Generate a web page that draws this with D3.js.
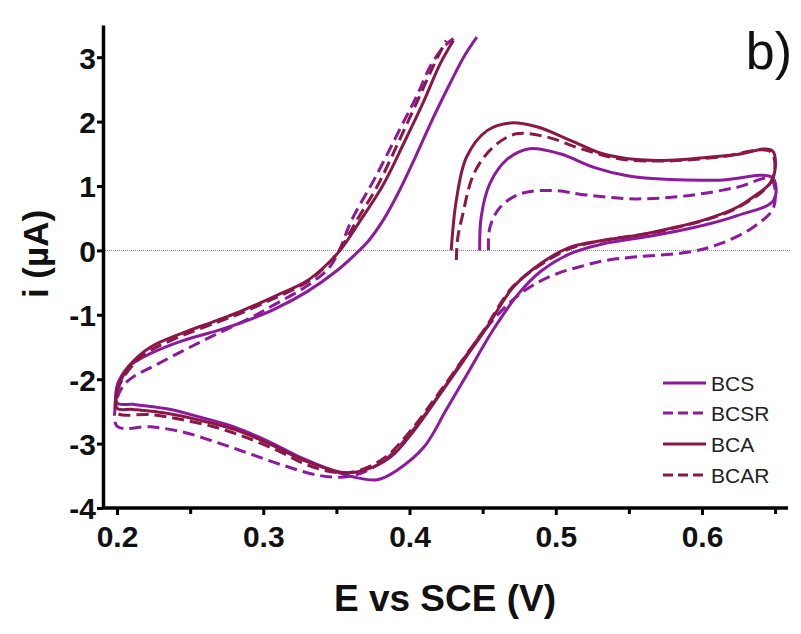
<!DOCTYPE html>
<html>
<head>
<meta charset="utf-8">
<script src="https://cdn.jsdelivr.net/npm/d3@7"></script>
<style>
  html, body { margin: 0; padding: 0; background: #fff; }
  svg { display: block; font-family: "Liberation Sans", Arial, sans-serif; }
</style>
</head>
<body>
<svg id="chart" width="801" height="634"></svg>
<script>
// ---- Data (E in V vs SCE, i in µA) in order ----
const seriesNames = ["BCS", "BCSR", "BCA", "BCAR"];

const bcs = [
  [0.448,0],[0.449,0.52],[0.455,1.04],[0.467,1.42],[0.482,1.58],[0.503,1.50],[0.526,1.29],
  [0.549,1.16],[0.578,1.10],[0.612,1.09],[0.648,1.13],
  [0.649,0.78],[0.624,0.54],[0.601,0.39],[0.567,0.23],[0.532,0.10],[0.510,-0.05],[0.490,-0.32],
  [0.475,-0.66],[0.457,-1.24],[0.441,-1.86],[0.425,-2.48],[0.410,-3.05],[0.391,-3.42],[0.378,-3.56],
  [0.362,-3.52],[0.348,-3.42],[0.325,-3.21],[0.302,-2.95],[0.280,-2.74],[0.257,-2.59],[0.234,-2.46],
  [0.211,-2.39],[0.200,-2.37],
  [0.200,-2.10],[0.203,-1.95],[0.208,-1.80],[0.223,-1.60],[0.245,-1.40],[0.268,-1.25],[0.284,-1.13],
  [0.307,-0.92],[0.330,-0.64],[0.350,-0.32],[0.362,-0.08],[0.372,0.15],[0.382,0.47],[0.392,0.88],
  [0.404,1.45],[0.416,2.05],[0.427,2.56],[0.437,3.00],[0.446,3.31]
];

const bcsr = [
  [0.454,0],[0.455,0.36],[0.462,0.67],[0.476,0.88],[0.498,0.93],[0.521,0.86],[0.555,0.80],
  [0.590,0.85],[0.624,0.98],[0.647,1.11],
  [0.649,0.67],[0.635,0.36],[0.612,0.10],[0.590,-0.03],[0.555,-0.10],[0.533,-0.16],[0.517,-0.25],
  [0.501,-0.36],[0.486,-0.52],[0.470,-0.78],[0.452,-1.22],[0.436,-1.72],[0.420,-2.25],[0.402,-2.80],
  [0.386,-3.20],[0.370,-3.43],[0.355,-3.52],[0.337,-3.49],[0.314,-3.34],[0.291,-3.16],[0.268,-2.98],
  [0.245,-2.82],[0.223,-2.74],[0.200,-2.73],
  [0.200,-2.30],[0.205,-2.08],[0.212,-1.95],[0.223,-1.82],[0.245,-1.56],[0.268,-1.30],[0.291,-1.05],
  [0.307,-0.85],[0.330,-0.55],[0.345,-0.27],[0.352,0.00],[0.360,0.45],[0.377,1.15],
  [0.394,1.91],[0.405,2.40],[0.414,2.85],[0.423,3.15],[0.430,3.29]
];

const bca = [
  [0.4285,0],[0.432,0.78],[0.439,1.45],[0.453,1.86],[0.469,1.98],[0.487,1.92],[0.510,1.71],
  [0.532,1.50],[0.555,1.41],[0.578,1.40],[0.601,1.44],[0.624,1.49],[0.648,1.55],
  [0.648,1.09],[0.635,0.83],[0.624,0.67],[0.601,0.47],[0.578,0.34],[0.555,0.23],[0.532,0.155],
  [0.510,0.05],[0.490,-0.20],[0.471,-0.57],[0.453,-1.19],[0.437,-1.71],[0.421,-2.23],[0.403,-2.80],
  [0.387,-3.21],[0.368,-3.42],[0.355,-3.45],[0.330,-3.28],[0.302,-2.98],[0.280,-2.78],[0.257,-2.64],
  [0.234,-2.53],[0.211,-2.47],[0.200,-2.45],
  [0.200,-2.20],[0.203,-2.00],[0.208,-1.80],[0.223,-1.50],[0.245,-1.28],[0.268,-1.09],[0.284,-0.95],
  [0.307,-0.72],[0.330,-0.47],[0.342,-0.25],[0.3525,0.00],[0.366,0.45],[0.382,1.02],
  [0.396,1.66],[0.410,2.33],[0.421,2.90],[0.430,3.26]
];

const bcar = [
  [0.432,-0.15],[0.433,0.20],[0.436,0.52],[0.444,1.19],[0.457,1.60],[0.473,1.81],[0.494,1.76],
  [0.517,1.58],[0.544,1.42],[0.578,1.39],[0.612,1.45],[0.647,1.53],
  [0.648,1.10],[0.624,0.66],[0.578,0.33],[0.532,0.15],[0.510,0.03],[0.490,-0.22],[0.470,-0.58],
  [0.452,-1.20],[0.435,-1.74],[0.418,-2.28],[0.400,-2.82],[0.383,-3.22],[0.365,-3.42],[0.350,-3.45],
  [0.330,-3.33],[0.311,-3.12],[0.290,-2.92],[0.268,-2.75],[0.245,-2.63],[0.223,-2.55],[0.200,-2.52],
  [0.200,-2.20],[0.205,-1.95],[0.215,-1.68],[0.223,-1.55],[0.245,-1.32],[0.268,-1.12],[0.284,-0.98],
  [0.307,-0.75],[0.330,-0.49],[0.342,-0.26],[0.352,0.00],[0.364,0.47],[0.378,1.00],
  [0.392,1.66],[0.405,2.30],[0.416,2.85],[0.425,3.26]
];

const xMajorTicks = [0.2, 0.3, 0.4, 0.5, 0.6];
const xMinorTicks = [0.25, 0.35, 0.45, 0.55, 0.65];
const yTicks = [-4, -3, -2, -1, 0, 1, 2, 3];

// ---- Layout ----
const svg = d3.select("#chart");
const purple = "#8c1a9c", maroon = "#8a1746";
const series = [
  { name: "BCS",  data: bcs,  color: purple, dash: null },
  { name: "BCSR", data: bcsr, color: purple, dash: "12,6" },
  { name: "BCA",  data: bca,  color: maroon, dash: null },
  { name: "BCAR", data: bcar, color: maroon, dash: "12,6" }
];

const x = d3.scaleLinear().domain([0.1904, 0.6588]).range([103, 788]);
const y = d3.scaleLinear().domain([-4, 3.5]).range([508, 25]);

// zero reference line
svg.append("line")
  .attr("x1", x(0.1904)).attr("x2", 790)
  .attr("y1", y(0)).attr("y2", y(0))
  .attr("stroke", "#888").attr("stroke-width", 1).attr("stroke-dasharray", "1,1");

// curves
const line = d3.line().x(d => x(d[0])).y(d => y(d[1])).curve(d3.curveCatmullRom.alpha(0.5));
svg.append("g").selectAll("path").data(series).join("path")
  .attr("d", d => line(d.data))
  .attr("fill", "none")
  .attr("stroke", d => d.color)
  .attr("stroke-width", 3)
  .attr("stroke-linejoin", "round")
  .attr("stroke-dasharray", d => d.dash);

// axes
const fmt = d3.format(".1f");
const gx = svg.append("g").attr("transform", `translate(0,${y(-4)})`)
  .call(d3.axisBottom(x).tickValues(xMajorTicks).tickFormat(fmt).tickSize(7).tickSizeOuter(0));
svg.append("g").attr("transform", `translate(0,${y(-4)})`)
  .call(d3.axisBottom(x).tickValues(xMinorTicks).tickFormat("").tickSize(6).tickSizeOuter(0))
  .call(g => g.select(".domain").remove())
  .selectAll("line").attr("stroke", "#000").attr("stroke-width", 3);
const gy = svg.append("g").attr("transform", `translate(${x(0.1904)},0)`)
  .call(d3.axisLeft(y).tickValues(yTicks).tickFormat(d => String(d)).tickSize(6).tickSizeOuter(0));

[gx, gy].forEach(g => {
  g.select(".domain").attr("stroke", "#000").attr("stroke-width", 3.5);
  g.selectAll(".tick line").attr("stroke", "#000").attr("stroke-width", 3);
  g.selectAll(".tick text")
    .attr("font-family", "'Liberation Sans', Arial, sans-serif")
    .attr("font-weight", "bold").attr("font-size", 30).attr("fill", "#111");
});
gx.selectAll(".tick text").attr("dy", "0.95em").attr("y", 10);
gy.selectAll(".tick text").attr("x", -7).attr("dy", "0.36em");
gx.select(".domain").attr("d", `M${x(0.1904)-1},0H${x(0.6588)}`);

// axis titles
svg.append("text")
  .attr("x", 445).attr("y", 611)
  .attr("text-anchor", "middle")
  .attr("font-weight", "bold").attr("font-size", 37).attr("fill", "#111")
  .text("E vs SCE (V)");
svg.append("text")
  .attr("transform", "translate(48,254) rotate(-90)")
  .attr("text-anchor", "middle")
  .attr("font-weight", "bold").attr("font-size", 35).attr("fill", "#111")
  .text("i (µA)");

// panel label
svg.append("text")
  .attr("x", 792).attr("y", 69)
  .attr("text-anchor", "end")
  .attr("font-size", 52).attr("fill", "#111")
  .text("b)");

// legend
const legend = svg.append("g");
const rowY = [383, 413, 444, 475];
series.forEach((s, i) => {
  legend.append("line")
    .attr("x1", 663).attr("x2", 706)
    .attr("y1", rowY[i]).attr("y2", rowY[i])
    .attr("stroke", s.color).attr("stroke-width", 3)
    .attr("stroke-dasharray", s.dash ? "10,5" : null);
  legend.append("text")
    .attr("x", 711).attr("y", rowY[i])
    .attr("dy", "0.36em")
    .attr("font-size", 21).attr("fill", "#222")
    .text(s.name);
});
</script>
</body>
</html>
